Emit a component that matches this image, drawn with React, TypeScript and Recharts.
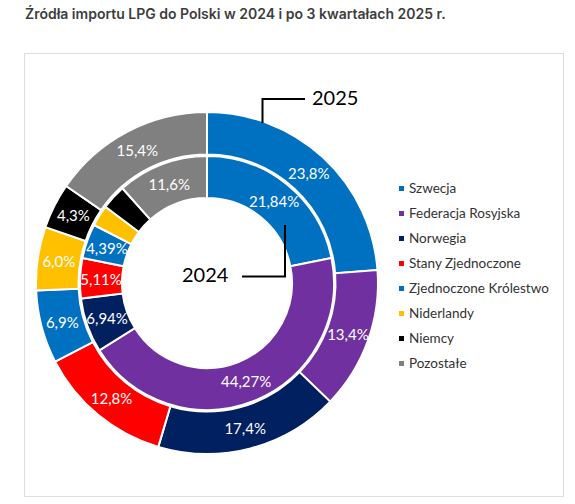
import { PieChart, Pie, Cell } from "recharts";

const countries = [
  "Szwecja",
  "Federacja Rosyjska",
  "Norwegia",
  "Stany Zjednoczone",
  "Zjednoczone Królestwo",
  "Niderlandy",
  "Niemcy",
  "Pozostałe",
];
const colors = ["#0070C0", "#7030A0", "#002060", "#FF0000", "#0070C0", "#FFC000", "#000000", "#808080"];
const share2025 = [23.8, 13.4, 17.4, 12.8, 6.9, 6.0, 4.3, 15.4];
const share2024 = [21.84, 44.27, 6.94, 5.11, 4.39, 2.7, 3.15, 11.6];
const hidden2024Labels = ["Niderlandy", "Niemcy"];

const outerData = countries.map((name, i) => ({ name, value: share2025[i] }));
const innerData = countries.map((name, i) => ({ name, value: share2024[i] }));

const RAD = Math.PI / 180;
const CX = 207;
const CY = 283;

function makeLabel(format: (v: number, name: string) => string | null) {
  return (props: any) => {
    const { cx, cy, midAngle, innerRadius, outerRadius, value, name } = props;
    const text = format(value, name);
    if (!text) return null;
    const r = (innerRadius + outerRadius) / 2;
    const x = cx + r * Math.cos(-midAngle * RAD);
    const y = cy + r * Math.sin(-midAngle * RAD);
    return (
      <text
        x={x}
        y={y}
        fill="#fff"
        fontSize={15}
        fontFamily="Lato, sans-serif"
        textAnchor="middle"
        dominantBaseline="central"
      >
        {text}
      </text>
    );
  };
}

const outerLabel = makeLabel((v) => v.toFixed(1).replace(".", ",") + "%");
const innerLabel = makeLabel((v, name) =>
  hidden2024Labels.includes(name) ? null : String(v).replace(".", ",") + "%"
);

function LegendList() {
  return (
    <div style={{ position: "absolute", left: 399, top: 175.5 }}>
      {countries.map((name, i) => (
        <div
          key={name}
          style={{
            display: "flex",
            alignItems: "center",
            height: 25,
            fontSize: 13.5,
            color: "#333",
            fontFamily: "Lato, sans-serif",
            whiteSpace: "nowrap",
          }}
        >
          <span style={{ width: 5, height: 5, background: colors[i], marginRight: 5 }} />
          {name}
        </div>
      ))}
    </div>
  );
}

export default function App() {
  return (
    <div style={{ position: "absolute", left: 0, top: 0, width: 575, height: 504, background: "#fff" }}>
      <div
        style={{
          position: "absolute",
          left: 25,
          top: 5,
          fontFamily: "Inter, sans-serif",
          fontWeight: 600,
          fontSize: 14,
          color: "#3d3d3d",
          whiteSpace: "nowrap",
        }}
      >
        Źródła importu LPG do Polski w 2024 i po 3 kwartałach 2025 r.
      </div>
      <div
        style={{
          position: "absolute",
          left: 24,
          top: 53,
          width: 538,
          height: 442,
          border: "1px solid #ddd",
        }}
      />
      <div style={{ position: "absolute", left: 0, top: 0 }}>
        <PieChart width={575} height={504} margin={{ top: 0, right: 0, bottom: 0, left: 0 }}>
          <Pie
            data={outerData}
            dataKey="value"
            nameKey="name"
            cx={CX}
            cy={CY}
            innerRadius={128.5}
            outerRadius={171}
            startAngle={90}
            endAngle={-270}
            stroke="#fff"
            strokeWidth={2}
            label={outerLabel}
            labelLine={false}
            isAnimationActive={false}
          >
            {outerData.map((d, i) => (
              <Cell key={d.name} fill={colors[i]} />
            ))}
          </Pie>
          <Pie
            data={innerData}
            dataKey="value"
            nameKey="name"
            cx={CX}
            cy={CY}
            innerRadius={85}
            outerRadius={127}
            startAngle={90}
            endAngle={-270}
            stroke="#fff"
            strokeWidth={2}
            label={innerLabel}
            labelLine={false}
            isAnimationActive={false}
          >
            {innerData.map((d, i) => (
              <Cell key={d.name} fill={colors[i]} />
            ))}
          </Pie>
        </PieChart>
      </div>
      <LegendList />
      <svg
        width={575}
        height={504}
        style={{ position: "absolute", left: 0, top: 0, pointerEvents: "none" }}
      >
        <polyline points="262.5,123 262.5,99 305,99" fill="none" stroke="#000" strokeWidth={2} />
        <text x={312} y={105} fontSize={20} fontFamily="Lato, sans-serif" fill="#000">
          2025
        </text>
        <polyline points="242,276.5 285,276.5 285,225" fill="none" stroke="#000" strokeWidth={2} />
        <text x={182} y={282} fontSize={20} fontFamily="Lato, sans-serif" fill="#000">
          2024
        </text>
      </svg>
    </div>
  );
}
